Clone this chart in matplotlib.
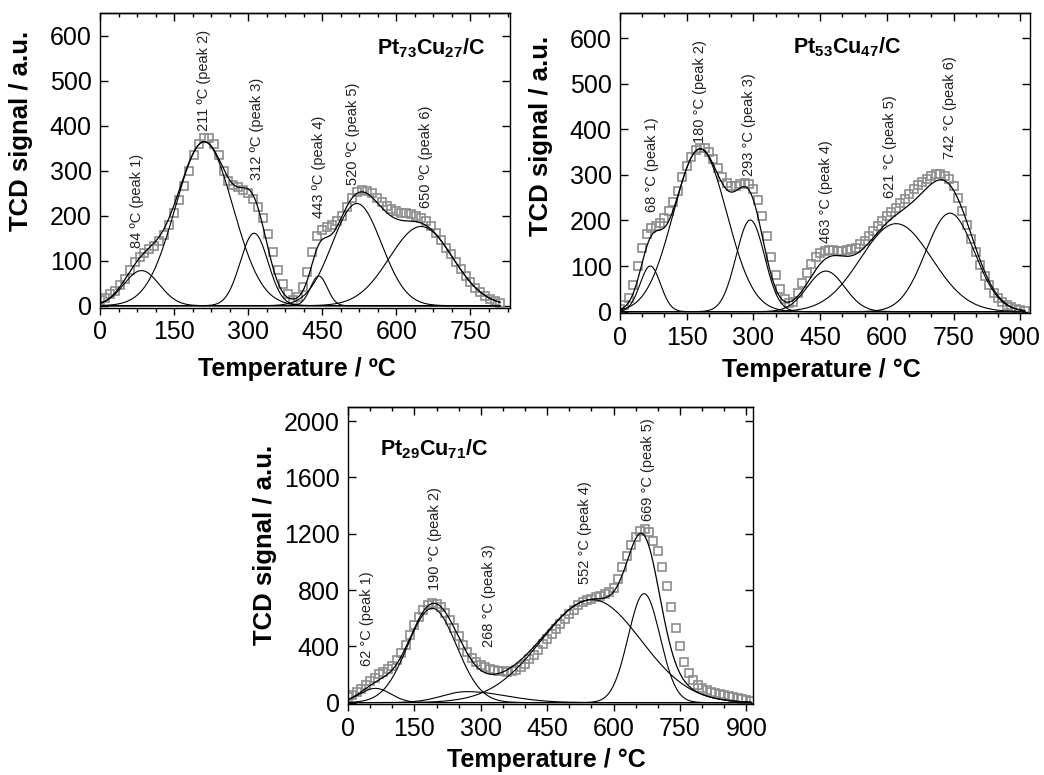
import numpy as np
import matplotlib
matplotlib.use("Agg")
import matplotlib.pyplot as plt
from matplotlib.ticker import MultipleLocator

plt.rcParams['font.family'] = ['Liberation Sans', 'DejaVu Sans']
plt.rcParams['mathtext.fontset'] = 'custom'
plt.rcParams['mathtext.rm'] = 'Liberation Sans'
plt.rcParams['mathtext.bf'] = 'Liberation Sans:bold'

# ---- Pt73Cu27/C : measured TCD signal every 10 degC ----
temp_a = np.arange(0, 820, 10)
tcd_a = [12, 18, 25, 33, 45, 60, 80, 97, 108, 116,
         125, 133, 143, 158, 180, 205, 235, 265, 300, 335,
         360, 372, 372, 360, 335, 300, 278, 268, 263, 258,
         250, 238, 220, 195, 160, 120, 80, 48, 25, 12,
         20, 42, 75, 120, 155, 168, 175, 180, 188, 200,
         220, 240, 252, 256, 255, 250, 240, 230, 222, 215,
         210, 207, 205, 203, 200, 195, 188, 178, 162, 145,
         128, 115, 98, 82, 66, 52, 40, 30, 22, 15,
         10, 6]
# fitted components: centre, height, left/right width
centre_a = [84, 211, 312, 443, 520, 650]
height_a = [78, 364, 161, 66, 227, 176]
sig_l_a = [36, 58, 28, 17, 50, 64]
sig_r_a = [36, 58, 28, 17, 50, 64]
lab_x_a = [74, 211, 318, 444, 513, 659]
lab_y_a = [128, 389, 279, 194, 268, 216]

# ---- Pt53Cu47/C ----
temp_b = np.arange(0, 920, 10)
tcd_b = [6, 15, 30, 58, 100, 140, 170, 183, 188, 195,
         205, 220, 240, 265, 295, 320, 340, 355, 360, 360,
         350, 335, 315, 295, 282, 276, 276, 280, 282, 280,
         268, 245, 210, 165, 120, 80, 50, 28, 18, 22,
         40, 62, 85, 105, 120, 128, 133, 135, 135, 134,
         134, 135, 138, 140, 148, 156, 165, 176, 188, 199,
         209, 219, 228, 238, 248, 258, 268, 277, 285, 292,
         298, 302, 302, 298, 290, 275, 250, 220, 190, 160,
         130, 102, 78, 58, 42, 30, 22, 15, 10, 6,
         4, 2]
centre_b = [68, 180, 293, 463, 621, 742]
height_b = [100, 357, 201, 89, 193, 216]
sig_l_b = [23, 60, 32, 42, 80, 55]
sig_r_b = [23, 60, 32, 42, 80, 55]
lab_x_b = [71, 180, 289, 464, 608, 742]
lab_y_b = [218, 371, 298, 150, 250, 334]

# ---- Pt29Cu71/C ----
temp_c = np.arange(0, 920, 10)
tcd_c = [40, 55, 75, 100, 125, 150, 175, 200, 220, 238,
         260, 300, 350, 410, 480, 550, 610, 660, 690, 705,
         700, 680, 640, 590, 530, 470, 410, 360, 320, 290,
         265, 250, 240, 232, 228, 224, 220, 222, 232, 250,
         275, 310, 340, 375, 415, 455, 490, 525, 560, 595,
         630, 660, 690, 712, 728, 738, 748, 760, 775, 785,
         815, 880, 960, 1040, 1120, 1180, 1222, 1235, 1210, 1150,
         1075, 960, 830, 680, 530, 400, 290, 210, 160, 128,
         105, 90, 78, 68, 60, 52, 46, 40, 35, 28,
         20, 12]
centre_c = [62, 190, 268, 552, 669]
height_c = [101, 670, 78, 731, 774]
sig_l_c = [35, 55, 55, 115, 36]
sig_r_c = [35, 55, 90, 110, 36]
lab_x_c = [44, 196, 319, 535, 677]
lab_y_c = [257, 800, 398, 846, 1290]


def component(t, c, h, sl, sr):
    s = np.where(t < c, sl, sr)
    return h * np.exp(-0.5 * ((t - c) / s) ** 2)


def draw_panel(ax, temp, tcd, centres, heights, sig_l, sig_r, lab_x, lab_y,
               deg, xlim, ylim, ymajor, xminor):
    t_fine = np.linspace(0, temp[-1], 600)
    total = np.zeros_like(t_fine)
    ax.plot(temp, tcd, ls='none', marker='s', ms=6, mfc='none',
            mec='#8c8c8c', mew=1.2, zorder=2)
    for c, h, sl, sr in zip(centres, heights, sig_l, sig_r):
        y = component(t_fine, c, h, sl, sr)
        total += y
        ax.plot(t_fine, y, color='black', lw=0.8, zorder=3)
    ax.plot(t_fine, total, color='black', lw=0.9, zorder=4)

    for i, (c, x, y) in enumerate(zip(centres, lab_x, lab_y)):
        ax.text(x, y, f'{c} {deg}C (peak {i + 1})', rotation=90,
                ha='center', va='bottom', fontsize=10.5, color='#222222')

    ax.set_xlim(*xlim)
    ax.set_ylim(*ylim)
    ax.xaxis.set_major_locator(MultipleLocator(150))
    ax.xaxis.set_minor_locator(MultipleLocator(xminor))
    ax.yaxis.set_major_locator(MultipleLocator(ymajor))
    ax.tick_params(axis='x', which='both', direction='out', top=False,
                   labelsize=18, pad=4)
    ax.tick_params(axis='x', which='major', length=5, width=1)
    ax.tick_params(axis='x', which='minor', length=3, width=1)
    ax.tick_params(axis='y', which='major', direction='in', right=True,
                   length=6, width=1, labelsize=18, pad=6)
    top = ax.secondary_xaxis('top')
    top.xaxis.set_major_locator(MultipleLocator(150))
    top.xaxis.set_minor_locator(MultipleLocator(xminor))
    top.tick_params(which='both', direction='in', labeltop=False, width=1)
    top.tick_params(which='major', length=6)
    top.tick_params(which='minor', length=3)
    for sp in list(ax.spines.values()) + list(top.spines.values()):
        sp.set_linewidth(1.0)

    ax.set_ylabel('TCD signal / a.u.', fontsize=18.5, fontweight='bold')
    ax.set_xlabel(f'Temperature / {deg}C', fontsize=18, fontweight='bold')


fig = plt.figure(figsize=(10.44, 7.75), dpi=100)

ax1 = fig.add_axes([0.0958, 0.6026, 0.3927, 0.3806])
draw_panel(ax1, temp_a, tcd_a, centre_a, height_a, sig_l_a, sig_r_a,
           lab_x_a, lab_y_a, 'º', (0, 830), (-5, 650), 100, 37.5)
ax1.text(780, 571, r'$\mathbf{Pt_{73}Cu_{27}/C}$', fontsize=15.5,
         ha='right', va='center')
ax1.yaxis.set_label_coords(-0.163, 0.6)
ax1.xaxis.set_label_coords(0.48, -0.166)

ax2 = fig.add_axes([0.5939, 0.5961, 0.3927, 0.3871])
draw_panel(ax2, temp_b, tcd_b, centre_b, height_b, sig_l_b, sig_r_b,
           lab_x_b, lab_y_b, '°', (0, 922), (-3, 655), 100, 50)
ax2.text(511, 579, r'$\mathbf{Pt_{53}Cu_{47}/C}$', fontsize=15.5,
         ha='center', va='center')
ax2.yaxis.set_label_coords(-0.163, 0.59)
ax2.xaxis.set_label_coords(0.49, -0.15)

ax3 = fig.add_axes([0.3333, 0.0916, 0.388, 0.3832])
draw_panel(ax3, temp_c, tcd_c, centre_c, height_c, sig_l_c, sig_r_c,
           lab_x_c, lab_y_c, '°', (0, 915), (-10, 2100), 400, 50)
ax3.text(72, 1802, r'$\mathbf{Pt_{29}Cu_{71}/C}$', fontsize=15.5,
         ha='left', va='center')
ax3.yaxis.set_label_coords(-0.175, 0.535)
ax3.xaxis.set_label_coords(0.49, -0.148)

fig.savefig('out.png', dpi=100)
